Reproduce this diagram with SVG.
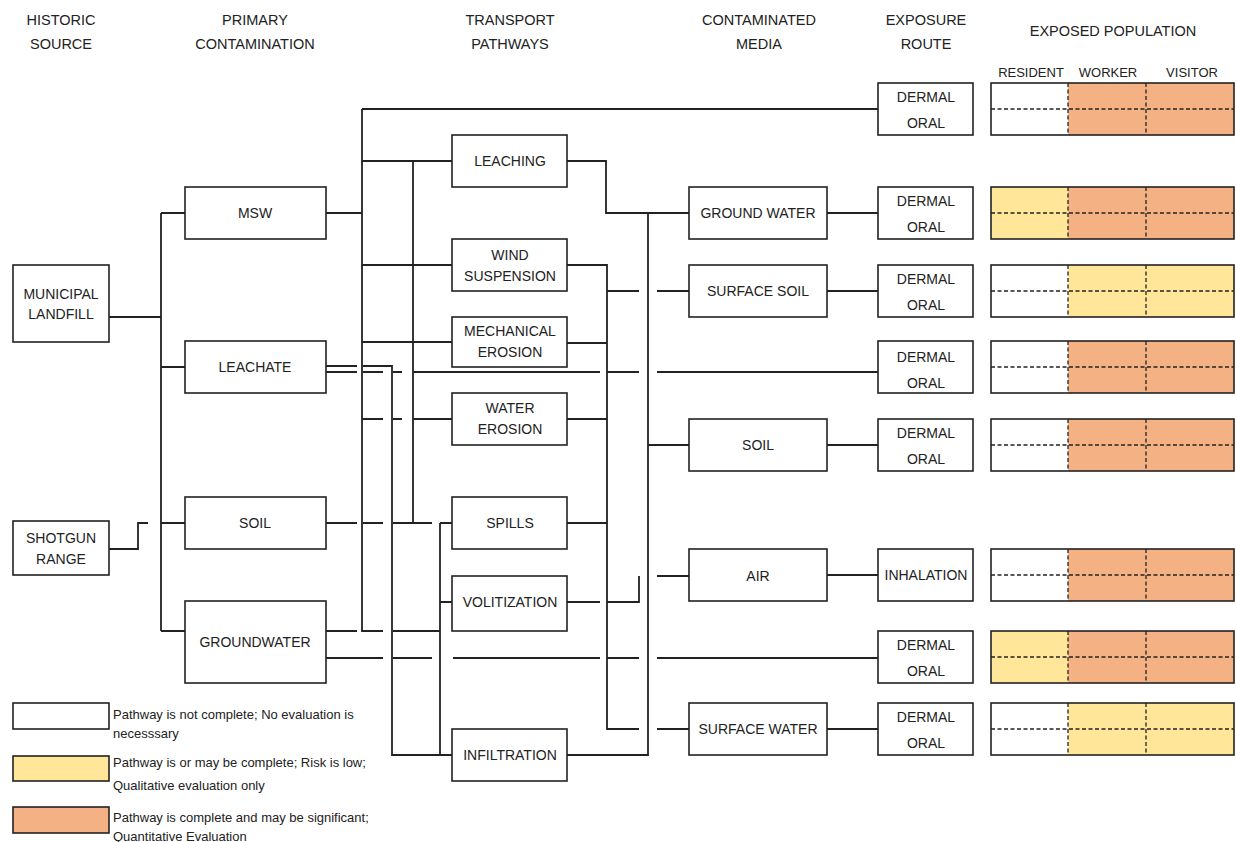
<svg xmlns="http://www.w3.org/2000/svg" width="1236" height="842" viewBox="0 0 1236 842">
<style>
text{font-family:"Liberation Sans",Arial,sans-serif;fill:#222;text-anchor:middle}
.h{font-size:14.5px}
.s{font-size:13px}
.b{font-size:14px}
.lg{font-size:13px;text-anchor:start}
.box{fill:#fff;stroke:#222;stroke-width:1.6}
.ln{fill:none;stroke:#222;stroke-width:1.8}
.w{fill:#fff}
.y{fill:#FFE699}
.o{fill:#F4B183}
.fr{fill:none;stroke:#222;stroke-width:1.6}
.d{fill:none;stroke:#222;stroke-width:1.3;stroke-dasharray:4 2.5}
</style>
<rect width="1236" height="842" fill="#fff"/>

<g id="headers">
<text class="h" x="61" y="25">HISTORIC</text><text class="h" x="61" y="49">SOURCE</text>
<text class="h" x="255" y="25">PRIMARY</text><text class="h" x="255" y="49">CONTAMINATION</text>
<text class="h" x="510" y="25">TRANSPORT</text><text class="h" x="510" y="49">PATHWAYS</text>
<text class="h" x="759" y="25">CONTAMINATED</text><text class="h" x="759" y="49">MEDIA</text>
<text class="h" x="926" y="25">EXPOSURE</text><text class="h" x="926" y="49">ROUTE</text>
<text class="h" x="1113" y="36">EXPOSED POPULATION</text>
<text class="s" x="1031" y="77">RESIDENT</text><text class="s" x="1108" y="77">WORKER</text><text class="s" x="1192" y="77">VISITOR</text>
</g>

<g id="connectors">
<path class="ln" d="M109 317H161M161 213V631M161 213H185M161 367H185M161 523H185M161 631H185M109 549H138V523H148"/>
<path class="ln" d="M326 213H362M362 109V631H383M362 109H878M362 161H452M413 161V523M362 265H452M362 342H452"/>
<path class="ln" d="M326 366H357M363 366H392V755H452"/>
<path class="ln" d="M326 372H357M363 372H383M393 372H402M413 372H600M607 372H639M657 372H878"/>
<path class="ln" d="M362 419H383M393 419H402M413 419H452"/>
<path class="ln" d="M326 523H357M363 523H383M393 523H432M440 523H452M440 523V755M440 602H452"/>
<path class="ln" d="M326 631H357M393 631H440"/>
<path class="ln" d="M326 658H383M393 658H432M453 658H600M607 658H639M657 658H878"/>
<path class="ln" d="M567 161H606V213H689M648 213V755H567M648 445H689"/>
<path class="ln" d="M567 265H607V729H639M657 729H689M607 291H639M657 291H689M567 343H607M567 419H607M567 523H607"/>
<path class="ln" d="M567 602H600M607 602H639V576M657 576H689"/>
<path class="ln" d="M827 213H878M827 291H878M827 445H878M827 575H878M827 729H878"/>
</g>

<g id="n-municipal"><rect class="box" x="13" y="265" width="96" height="77"/><text class="b" x="61" y="299">MUNICIPAL</text><text class="b" x="61" y="319">LANDFILL</text></g>
<g id="n-shotgun"><rect class="box" x="13" y="521" width="96" height="54"/><text class="b" x="61" y="543">SHOTGUN</text><text class="b" x="61" y="564">RANGE</text></g>

<g id="n-msw"><rect class="box" x="185" y="187" width="141" height="52"/><text class="b" x="255" y="218">MSW</text></g>
<g id="n-leachate"><rect class="box" x="185" y="341" width="141" height="52"/><text class="b" x="255" y="372">LEACHATE</text></g>
<g id="n-soil1"><rect class="box" x="185" y="497" width="141" height="52"/><text class="b" x="255" y="528">SOIL</text></g>
<g id="n-groundwater"><rect class="box" x="185" y="601" width="141" height="82"/><text class="b" x="255" y="647">GROUNDWATER</text></g>

<g id="n-leaching"><rect class="box" x="452" y="135" width="115" height="52"/><text class="b" x="510" y="166">LEACHING</text></g>
<g id="n-wind"><rect class="box" x="452" y="239" width="115" height="52"/><text class="b" x="510" y="260">WIND</text><text class="b" x="510" y="281">SUSPENSION</text></g>
<g id="n-mech"><rect class="box" x="452" y="317" width="115" height="50"/><text class="b" x="510" y="336">MECHANICAL</text><text class="b" x="510" y="357">EROSION</text></g>
<g id="n-water"><rect class="box" x="452" y="393" width="115" height="52"/><text class="b" x="510" y="413">WATER</text><text class="b" x="510" y="434">EROSION</text></g>
<g id="n-spills"><rect class="box" x="452" y="497" width="115" height="52"/><text class="b" x="510" y="528">SPILLS</text></g>
<g id="n-volit"><rect class="box" x="452" y="576" width="115" height="55"/><text class="b" x="510" y="607">VOLITIZATION</text></g>
<g id="n-infil"><rect class="box" x="452" y="729" width="115" height="52"/><text class="b" x="510" y="760">INFILTRATION</text></g>

<g id="n-gw"><rect class="box" x="689" y="187" width="138" height="52"/><text class="b" x="758" y="218">GROUND WATER</text></g>
<g id="n-ssoil"><rect class="box" x="689" y="265" width="138" height="52"/><text class="b" x="758" y="296">SURFACE SOIL</text></g>
<g id="n-soil2"><rect class="box" x="689" y="419" width="138" height="52"/><text class="b" x="758" y="450">SOIL</text></g>
<g id="n-air"><rect class="box" x="689" y="549" width="138" height="52"/><text class="b" x="758" y="581">AIR</text></g>
<g id="n-sw"><rect class="box" x="689" y="703" width="138" height="52"/><text class="b" x="758" y="734">SURFACE WATER</text></g>

<g id="n-route1"><rect class="box" x="878" y="83" width="95" height="52"/><text class="b" x="926" y="102">DERMAL</text><text class="b" x="926" y="128">ORAL</text></g>
<g id="n-route2"><rect class="box" x="878" y="187" width="95" height="52"/><text class="b" x="926" y="206">DERMAL</text><text class="b" x="926" y="232">ORAL</text></g>
<g id="n-route3"><rect class="box" x="878" y="265" width="95" height="52"/><text class="b" x="926" y="284">DERMAL</text><text class="b" x="926" y="310">ORAL</text></g>
<g id="n-route4"><rect class="box" x="878" y="341" width="95" height="52"/><text class="b" x="926" y="362">DERMAL</text><text class="b" x="926" y="388">ORAL</text></g>
<g id="n-route5"><rect class="box" x="878" y="419" width="95" height="52"/><text class="b" x="926" y="438">DERMAL</text><text class="b" x="926" y="464">ORAL</text></g>
<g id="n-route6"><rect class="box" x="878" y="549" width="95" height="52"/><text class="b" x="926" y="580">INHALATION</text></g>
<g id="n-route7"><rect class="box" x="878" y="631" width="95" height="52"/><text class="b" x="926" y="650">DERMAL</text><text class="b" x="926" y="676">ORAL</text></g>
<g id="n-route8"><rect class="box" x="878" y="703" width="95" height="52"/><text class="b" x="926" y="722">DERMAL</text><text class="b" x="926" y="748">ORAL</text></g>

<g id="pop1"><rect class="w" x="991" y="83" width="77" height="52"/><rect class="o" x="1068" y="83" width="78" height="52"/><rect class="o" x="1146" y="83" width="88" height="52"/><path class="d" d="M991 109H1234M1068 83V135M1146 83V135"/><rect class="fr" x="991" y="83" width="243" height="52"/></g>
<g id="pop2"><rect class="y" x="991" y="187" width="77" height="52"/><rect class="o" x="1068" y="187" width="78" height="52"/><rect class="o" x="1146" y="187" width="88" height="52"/><path class="d" d="M991 213H1234M1068 187V239M1146 187V239"/><rect class="fr" x="991" y="187" width="243" height="52"/></g>
<g id="pop3"><rect class="w" x="991" y="265" width="77" height="52"/><rect class="y" x="1068" y="265" width="78" height="52"/><rect class="y" x="1146" y="265" width="88" height="52"/><path class="d" d="M991 291H1234M1068 265V317M1146 265V317"/><rect class="fr" x="991" y="265" width="243" height="52"/></g>
<g id="pop4"><rect class="w" x="991" y="341" width="77" height="52"/><rect class="o" x="1068" y="341" width="78" height="52"/><rect class="o" x="1146" y="341" width="88" height="52"/><path class="d" d="M991 367H1234M1068 341V393M1146 341V393"/><rect class="fr" x="991" y="341" width="243" height="52"/></g>
<g id="pop5"><rect class="w" x="991" y="419" width="77" height="52"/><rect class="o" x="1068" y="419" width="78" height="52"/><rect class="o" x="1146" y="419" width="88" height="52"/><path class="d" d="M991 445H1234M1068 419V471M1146 419V471"/><rect class="fr" x="991" y="419" width="243" height="52"/></g>
<g id="pop6"><rect class="w" x="991" y="549" width="77" height="52"/><rect class="o" x="1068" y="549" width="78" height="52"/><rect class="o" x="1146" y="549" width="88" height="52"/><path class="d" d="M991 575H1234M1068 549V601M1146 549V601"/><rect class="fr" x="991" y="549" width="243" height="52"/></g>
<g id="pop7"><rect class="y" x="991" y="631" width="77" height="52"/><rect class="o" x="1068" y="631" width="78" height="52"/><rect class="o" x="1146" y="631" width="88" height="52"/><path class="d" d="M991 657H1234M1068 631V683M1146 631V683"/><rect class="fr" x="991" y="631" width="243" height="52"/></g>
<g id="pop8"><rect class="w" x="991" y="703" width="77" height="52"/><rect class="y" x="1068" y="703" width="78" height="52"/><rect class="y" x="1146" y="703" width="88" height="52"/><path class="d" d="M991 729H1234M1068 703V755M1146 703V755"/><rect class="fr" x="991" y="703" width="243" height="52"/></g>

<g id="legend">
<rect class="box" x="13" y="703" width="96" height="26"/>
<text class="lg" x="113" y="719">Pathway is not complete; No evaluation is</text>
<text class="lg" x="113" y="738">necesssary</text>
<rect class="box" x="13" y="756" width="96" height="25" style="fill:#FFE699"/>
<text class="lg" x="113" y="767">Pathway is or may be complete; Risk is low;</text>
<text class="lg" x="113" y="790">Qualitative evaluation only</text>
<rect class="box" x="13" y="807" width="96" height="26" style="fill:#F4B183"/>
<text class="lg" x="113" y="822">Pathway is complete and may be significant;</text>
<text class="lg" x="113" y="841">Quantitative Evaluation</text>
</g>
</svg>
